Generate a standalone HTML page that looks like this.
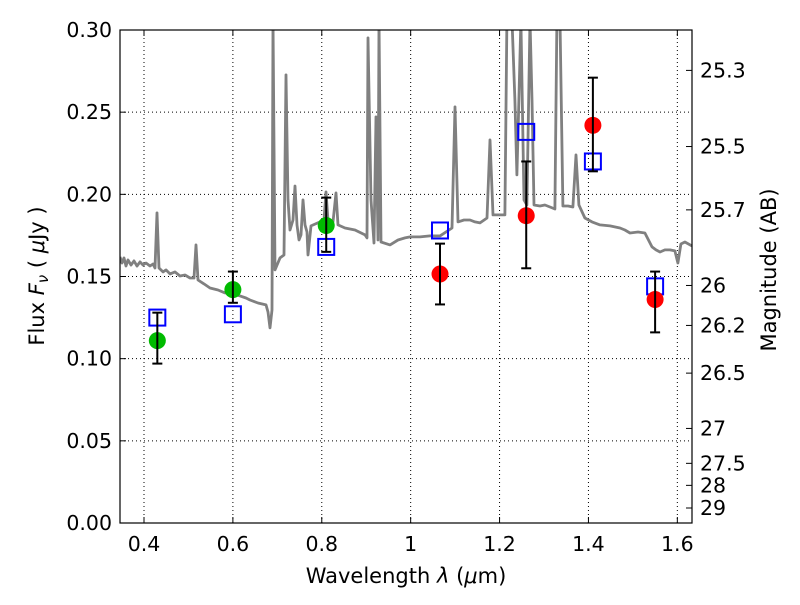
<!DOCTYPE html>
<html><head><meta charset="utf-8"><style>
body{margin:0;background:#fff;}
svg text{font-family:"DejaVu Sans","Liberation Sans",sans-serif;fill:#000;}
</style></head><body>
<svg id="chart" width="800" height="600" xmlns="http://www.w3.org/2000/svg">
<rect width="800" height="600" fill="#fff"/>
<g id="grid"></g>
<g id="spec"></g>
<g id="marks"></g>
<rect x="120" y="30" width="572" height="493" fill="none" stroke="#000" stroke-width="1.2"/>
<g id="axes"></g>
<text x="406" y="583" font-size="21" text-anchor="middle">Wavelength  <tspan font-style="italic">λ</tspan> (<tspan font-style="italic">μ</tspan>m)</text>
<text transform="translate(44,276) rotate(-90)" font-size="21" text-anchor="middle">Flux  <tspan font-style="italic">F</tspan><tspan font-style="italic" font-size="15" dy="4">ν</tspan><tspan dy="-4">  ( </tspan><tspan font-style="italic">μ</tspan>Jy )</text>
<text transform="translate(776,270) rotate(-90)" font-size="21" text-anchor="middle">Magnitude (AB)</text>
</svg>
<script>
const xTicks=[0.4,0.6,0.8,1.0,1.2,1.4,1.6];
const xTickLabels=["0.4","0.6","0.8","1","1.2","1.4","1.6"];
const yTicks=[0,0.05,0.10,0.15,0.20,0.25,0.30];
const yTickLabels=["0.00","0.05","0.10","0.15","0.20","0.25","0.30"];
const magTicks=[25.3,25.5,25.7,26,26.2,26.5,27,27.5,28,29];
const magTickLabels=["25.3","25.5","25.7","26","26.2","26.5","27","27.5","28","29"];
const specPx=[[120,257],[122,263],[124,258],[126,266],[128,260],[131,265],[134,261],[137,266],[140,262],[143,265],[146,263],[150,266],[153,264],[155,268],[157,213],[159,268],[163,272],[166,270],[170,274],[175,272],[180,276],[185,275],[190,278],[194,278],[196,245],[198,280],[204,284],[210,288],[218,290],[225,293],[232,294],[240,296],[246,298],[250,300],[258,303],[266,305],[268,312],[270,328],[272,310],[273,20],[275,270],[280,258],[284,255],[286,75],[288,200],[290,230],[293,220],[295,186],[297,225],[299,240],[301,235],[303,200],[305,225],[307,232],[308,255],[311,226],[320,222],[324,220],[326,192],[328,220],[333,222],[336,193],[338,225],[345,228],[355,230],[365,235],[367,238],[368,38],[371,200],[374,243],[376,117],[378,240],[379,20],[381,242],[390,245],[398,240],[405,238],[410,237],[420,237],[430,236],[440,236],[452,228],[455,107],[458,222],[464,220],[470,220],[475,222],[480,223],[487,218],[490,140],[493,215],[505,215],[507,20],[512,20],[515,100],[517,175],[519,100],[521,20],[524,200],[527,205],[530,20],[532,100],[534,205],[540,206],[545,205],[550,207],[555,209],[557,20],[560,20],[563,206],[568,206],[573,207],[576,155],[579,205],[585,218],[592,222],[600,225],[610,226],[620,228],[625,230],[630,233],[638,232],[645,233],[652,247],[656,250],[660,252],[665,250],[670,250],[675,251],[678,263],[681,244],[685,242],[692,246]];
const specLambda=specPx.map(p=>+(0.4+(p[0]-144)/444.5).toFixed(4));
const specFlux=specPx.map(p=>+((523-p[1])/1643).toFixed(4));
const photLambda=[0.43,0.60,0.81,1.066,1.26,1.41,1.55];
const photFlux=[0.111,0.142,0.181,0.1515,0.187,0.242,0.136];
const errLow=[0.097,0.134,0.165,0.133,0.155,0.214,0.116];
const errHigh=[0.128,0.153,0.198,0.170,0.220,0.271,0.153];
const photColor=["#00bb00","#00bb00","#00bb00","red","red","red","red"];
const modelFlux=[0.125,0.127,0.168,0.178,0.238,0.220,0.144];

const NS="http://www.w3.org/2000/svg";
const X0=120,X1=692,Y0=523,Y1=30,LMIN=0.346,LMAX=1.633,FMAX=0.30;
const sx=l=>X0+(l-LMIN)/(LMAX-LMIN)*(X1-X0);
const sy=f=>Y0-f/FMAX*(Y0-Y1);
function mk(tag,attrs,parent){const e=document.createElementNS(NS,tag);for(const k in attrs)e.setAttribute(k,attrs[k]);parent.appendChild(e);return e;}
const grid=document.getElementById('grid'),axes=document.getElementById('axes'),spec=document.getElementById('spec'),marks=document.getElementById('marks');
xTicks.forEach((t,i)=>{const x=sx(t);
 let g=mk('line',{x1:x,x2:x,y1:Y1,y2:Y0,stroke:'#000','stroke-width':1,'stroke-dasharray':'1,3'},grid);
 
 let a=mk('line',{x1:x,x2:x,y1:Y0,y2:Y0-6,stroke:'#000'},axes);
 let b=mk('line',{x1:x,x2:x,y1:Y1,y2:Y1+6,stroke:'#000'},axes);
 let tx=mk('text',{x:x,y:Y0+28,'font-size':20.5,'text-anchor':'middle'},axes);tx.textContent=xTickLabels[i];
 });
yTicks.forEach((t,i)=>{const y=sy(t);
 if(t>0&&t<FMAX){let g=mk('line',{x1:X0,x2:X1,y1:y,y2:y,stroke:'#000','stroke-width':1,'stroke-dasharray':'1,3'},grid);
 }
 let a=mk('line',{x1:X0,x2:X0+6,y1:y,y2:y,stroke:'#000'},axes);
 let tx=mk('text',{x:X0-8,y:y+7,'font-size':20.5,'text-anchor':'end'},axes);tx.textContent=yTickLabels[i];
 });
magTicks.forEach((m,i)=>{const y=sy(Math.pow(10,(23.9-m)/2.5));
 let a=mk('line',{x1:X1-6,x2:X1,y1:y,y2:y,stroke:'#000'},axes);
 let tx=mk('text',{x:X1+8,y:y+7,'font-size':20.5},axes);tx.textContent=magTickLabels[i];
 });
const defs=mk('defs',{},spec);const cp=mk('clipPath',{id:'clip'},defs);mk('rect',{x:X0,y:Y1,width:X1-X0,height:Y0-Y1},cp);
const pts=specLambda.map((l,i)=>sx(l).toFixed(1)+','+sy(specFlux[i]).toFixed(1)).join(' ');
const pl=mk('polyline',{points:pts,fill:'none',stroke:'#808080','stroke-width':2.8,'stroke-linejoin':'round','clip-path':'url(#clip)'},spec);

photLambda.forEach((l,i)=>{const x=sx(l);
 let s=mk('rect',{x:x-8,y:sy(modelFlux[i])-8,width:16,height:16,fill:'none',stroke:'#0000ff','stroke-width':2},marks);
 
 let c=mk('circle',{cx:x,cy:sy(photFlux[i]),r:8.5,fill:photColor[i]},marks);
 
 const e=mk('g',{stroke:'#000','stroke-width':2},marks);
 
 mk('line',{x1:x,x2:x,y1:sy(errLow[i]),y2:sy(errHigh[i])},e);
 mk('line',{x1:x-5,x2:x+5,y1:sy(errLow[i]),y2:sy(errLow[i])},e);
 mk('line',{x1:x-5,x2:x+5,y1:sy(errHigh[i]),y2:sy(errHigh[i])},e);});
</script>
</body></html>
